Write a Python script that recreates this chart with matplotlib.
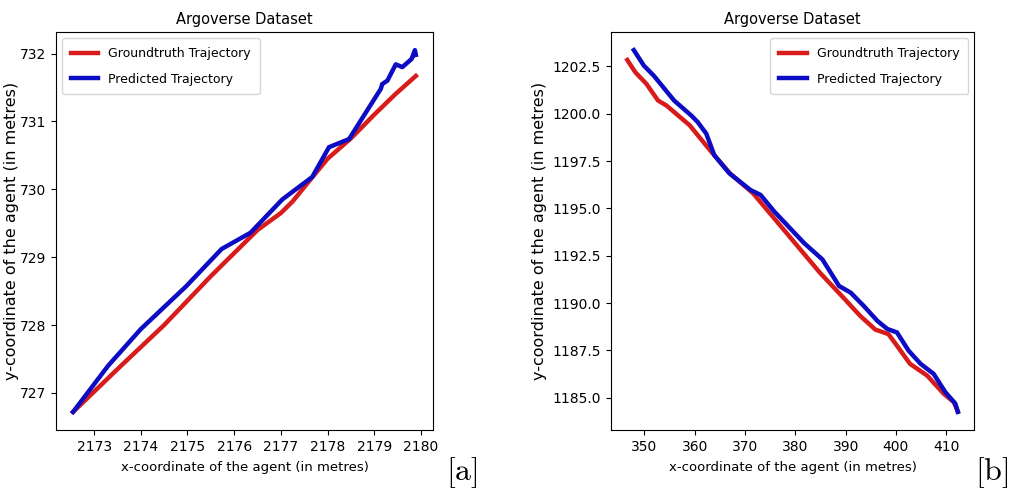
import numpy as np
import matplotlib.pyplot as plt

plt.rcParams['mathtext.fontset'] = 'cm'

# panel [a]
a_gt_x = [2172.55, 2173.5, 2174.5, 2175.5, 2176.5, 2177.0, 2177.25, 2177.7,
          2178.0, 2178.5, 2179.0, 2179.45, 2179.89]
a_gt_y = [726.72, 727.35, 728.0, 728.72, 729.4, 729.65, 729.82, 730.2,
          730.45, 730.75, 731.1, 731.4, 731.67]
a_pr_x = [2172.55, 2173.3, 2174.0, 2174.97, 2175.73, 2176.35, 2177.03, 2177.67,
          2178.03, 2178.46, 2179.14, 2179.17, 2179.28, 2179.46, 2179.6, 2179.8,
          2179.87, 2179.89]
a_pr_y = [726.72, 727.4, 727.94, 728.57, 729.12, 729.36, 729.85, 730.18,
          730.62, 730.74, 731.48, 731.55, 731.6, 731.84, 731.8, 731.92,
          732.05, 731.98]
a_xticks = [2173, 2174, 2175, 2176, 2177, 2178, 2179, 2180]
a_yticks = [727, 728, 729, 730, 731, 732]

# panel [b]
b_gt_x = [346.6, 348.2, 350.4, 352.7, 354.4, 359.0, 363.3, 367.0, 371.6,
          384.9, 387.2, 389.5, 392.9, 395.9, 398.5, 400.2, 402.8, 406.2,
          409.5, 411.5, 412.3]
b_gt_y = [1202.84, 1202.19, 1201.58, 1200.7, 1200.43, 1199.39, 1197.99,
          1196.85, 1195.8, 1191.6, 1190.95, 1190.3, 1189.32, 1188.6, 1188.36,
          1187.75, 1186.79, 1186.17, 1185.21, 1184.77, 1184.28]
b_pr_x = [347.9, 349.9, 351.9, 355.9, 359.3, 360.6, 362.3, 363.9, 366.9,
          371.1, 373.1, 375.8, 381.7, 385.4, 388.7, 391.0, 393.6, 396.3,
          398.3, 400.2, 402.5, 404.9, 407.5, 409.8, 411.8, 412.3]
b_pr_y = [1203.36, 1202.54, 1202.0, 1200.7, 1199.91, 1199.56, 1198.95,
          1197.81, 1196.85, 1195.97, 1195.71, 1194.84, 1193.18, 1192.3,
          1190.9, 1190.55, 1189.85, 1189.06, 1188.63, 1188.45, 1187.49,
          1186.79, 1186.26, 1185.3, 1184.69, 1184.25]
b_xticks = [350, 360, 370, 380, 390, 400, 410]
b_yticks = [1185.0, 1187.5, 1190.0, 1192.5, 1195.0, 1197.5, 1200.0, 1202.5]

red = '#d81c1c'
blue = '#0c0cc4'

fig = plt.figure(figsize=(10.1, 4.95), dpi=100)
ax1 = fig.add_axes([0.0554, 0.1313, 0.3733, 0.804])
ax2 = fig.add_axes([0.6047, 0.1313, 0.36, 0.804])

panels = [
    (ax1, a_gt_x, a_gt_y, a_pr_x, a_pr_y, a_xticks, a_yticks, '%d',
     'upper left', 'a', 0.457, -0.098),
    (ax2, b_gt_x, b_gt_y, b_pr_x, b_pr_y, b_xticks, b_yticks, '%.1f',
     'upper right', 'b', 0.982, -0.175),
]

for ax, gx, gy, px, py, xt, yt, yfmt, loc, tag, tx, ylx in panels:
    ax.plot(gx, gy, color=red, lw=3.2, label='Groundtruth Trajectory')
    ax.plot(px, py, color=blue, lw=3.2, label='Predicted Trajectory')
    ax.set_title('Argoverse Dataset', fontsize=10.5, pad=6)
    ax.set_xlabel('x-coordinate of the agent (in metres)', fontsize=9.5,
                  labelpad=5)
    ax.set_ylabel('y-coordinate of the agent (in metres)', fontsize=11.5)
    ax.yaxis.set_label_coords(ylx, 0.5)
    ax.set_xticks(xt)
    ax.set_yticks(yt)
    ax.set_yticklabels([yfmt % v for v in yt])
    ax.tick_params(labelsize=10)
    ax.legend(loc=loc, fontsize=9, handlelength=2.2, labelspacing=1.0,
              borderpad=0.7)
    fig.text(tx, 0.045, r'$[\mathrm{%s}]$' % tag, fontsize=23,
             ha='center', va='center')

fig.savefig('out.png', dpi=100)
